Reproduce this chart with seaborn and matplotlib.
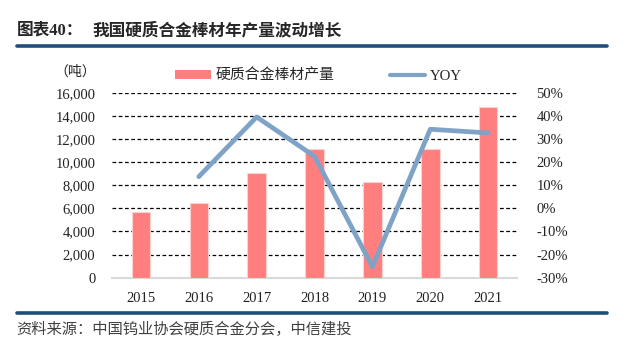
import numpy as np
import pandas as pd
import matplotlib
matplotlib.use("Agg")
import matplotlib.pyplot as plt
from matplotlib.patches import Patch
from matplotlib.lines import Line2D
import seaborn as sns

sns.set_theme(style="white")
plt.rcParams['font.family'] = ['Liberation Serif', 'Noto Sans CJK SC', 'DejaVu Sans']

# data
years = ['2015', '2016', '2017', '2018', '2019', '2020', '2021']
output_t = [5710, 6490, 9030, 11110, 8300, 11130, 14790]
yoy_pct = [np.nan, 13.7, 39.5, 22.5, -25.3, 34.2, 32.6]

bar_col = '#FF7F7F'
line_col = '#7FA3C7'
rule_col = '#1F4E79'
cjk = ['Noto Sans CJK SC', 'DejaVu Sans']
mixed = ['Liberation Serif', 'Noto Sans CJK SC']

df = pd.DataFrame({'year': years, 'output': output_t, 'yoy': yoy_pct})
df['pos'] = np.arange(len(df))

fig = plt.figure(figsize=(6.41, 3.51), dpi=100)
ax = fig.add_axes([0.1747, 0.2088, 0.632, 0.5271])

sns.barplot(data=df, x='year', y='output', color=bar_col, width=0.32,
            saturation=1, edgecolor='#FFD0D0', linewidth=0.8, ax=ax, zorder=3)
ax.set_ylim(0, 16000)
ax.set_yticks(np.arange(0, 16001, 2000))
ax.set_yticklabels([f'{v:,}' for v in range(0, 16001, 2000)])
ax.set_xlim(-0.5, 6.5)
ax.set_xlabel('')
ax.set_ylabel('')
for y in range(2000, 16001, 2000):
    ax.axhline(y, color='black', lw=0.9, ls=(0, (3, 2)), zorder=1)

ax2 = ax.twinx()
sns.lineplot(data=df.dropna(), x='pos', y='yoy', color=line_col, lw=3.4, ax=ax2,
             zorder=4)
ax2.set_ylim(-30, 50)
ax2.set_yticks(np.arange(-30, 51, 10))
ax2.set_yticklabels([f'{v}%' for v in range(-30, 51, 10)])
ax2.set_ylabel('')
ax2.set_xlim(-0.5, 6.5)

for a in (ax, ax2):
    for s in a.spines.values():
        s.set_visible(False)
    a.tick_params(length=0, labelsize=10.5, colors='#222222')
    a.grid(False)
ax.spines['bottom'].set_visible(True)
ax.spines['bottom'].set_color('#D9D9D9')
ax.spines['bottom'].set_linewidth(1.5)
ax.tick_params(axis='y', pad=12)
ax.tick_params(axis='x', pad=10)
ax2.tick_params(axis='y', pad=14)

fig.text(0.149, 0.797, '（吨）', ha='right', va='center', fontsize=10, family=cjk,
         color='#222222')

handles = [Patch(facecolor=bar_col, edgecolor='none'),
           Line2D([0], [0], color=line_col, lw=3)]
fig.legend(handles, ['硬质合金棒材产量', 'YOY'], loc='center',
           bbox_to_anchor=(0.497, 0.785), ncol=2, frameon=False,
           handlelength=2.4, handleheight=0.55,
           handletextpad=0.3, columnspacing=3.7,
           prop={'family': mixed, 'size': 10.7})

# header and footer
fig.text(0.026, 0.913, '图表40：', ha='left', va='center', fontsize=12,
         fontweight='bold', family=mixed)
fig.text(0.145, 0.913, '我国硬质合金棒材年产量波动增长', ha='left', va='center',
         fontsize=12, fontweight='bold', family=cjk)
fig.add_artist(Line2D([0.026, 0.947], [0.869, 0.869], color=rule_col, lw=2.6,
                      transform=fig.transFigure))
fig.add_artist(Line2D([0.026, 0.947], [0.108, 0.108], color=rule_col, lw=2.6,
                      transform=fig.transFigure))
fig.text(0.026, 0.06, '资料来源：中国钨业协会硬质合金分会，中信建投', ha='left',
         va='center', fontsize=11, family=cjk, color='#404040', style='italic')

fig.savefig('out.png', dpi=100)
